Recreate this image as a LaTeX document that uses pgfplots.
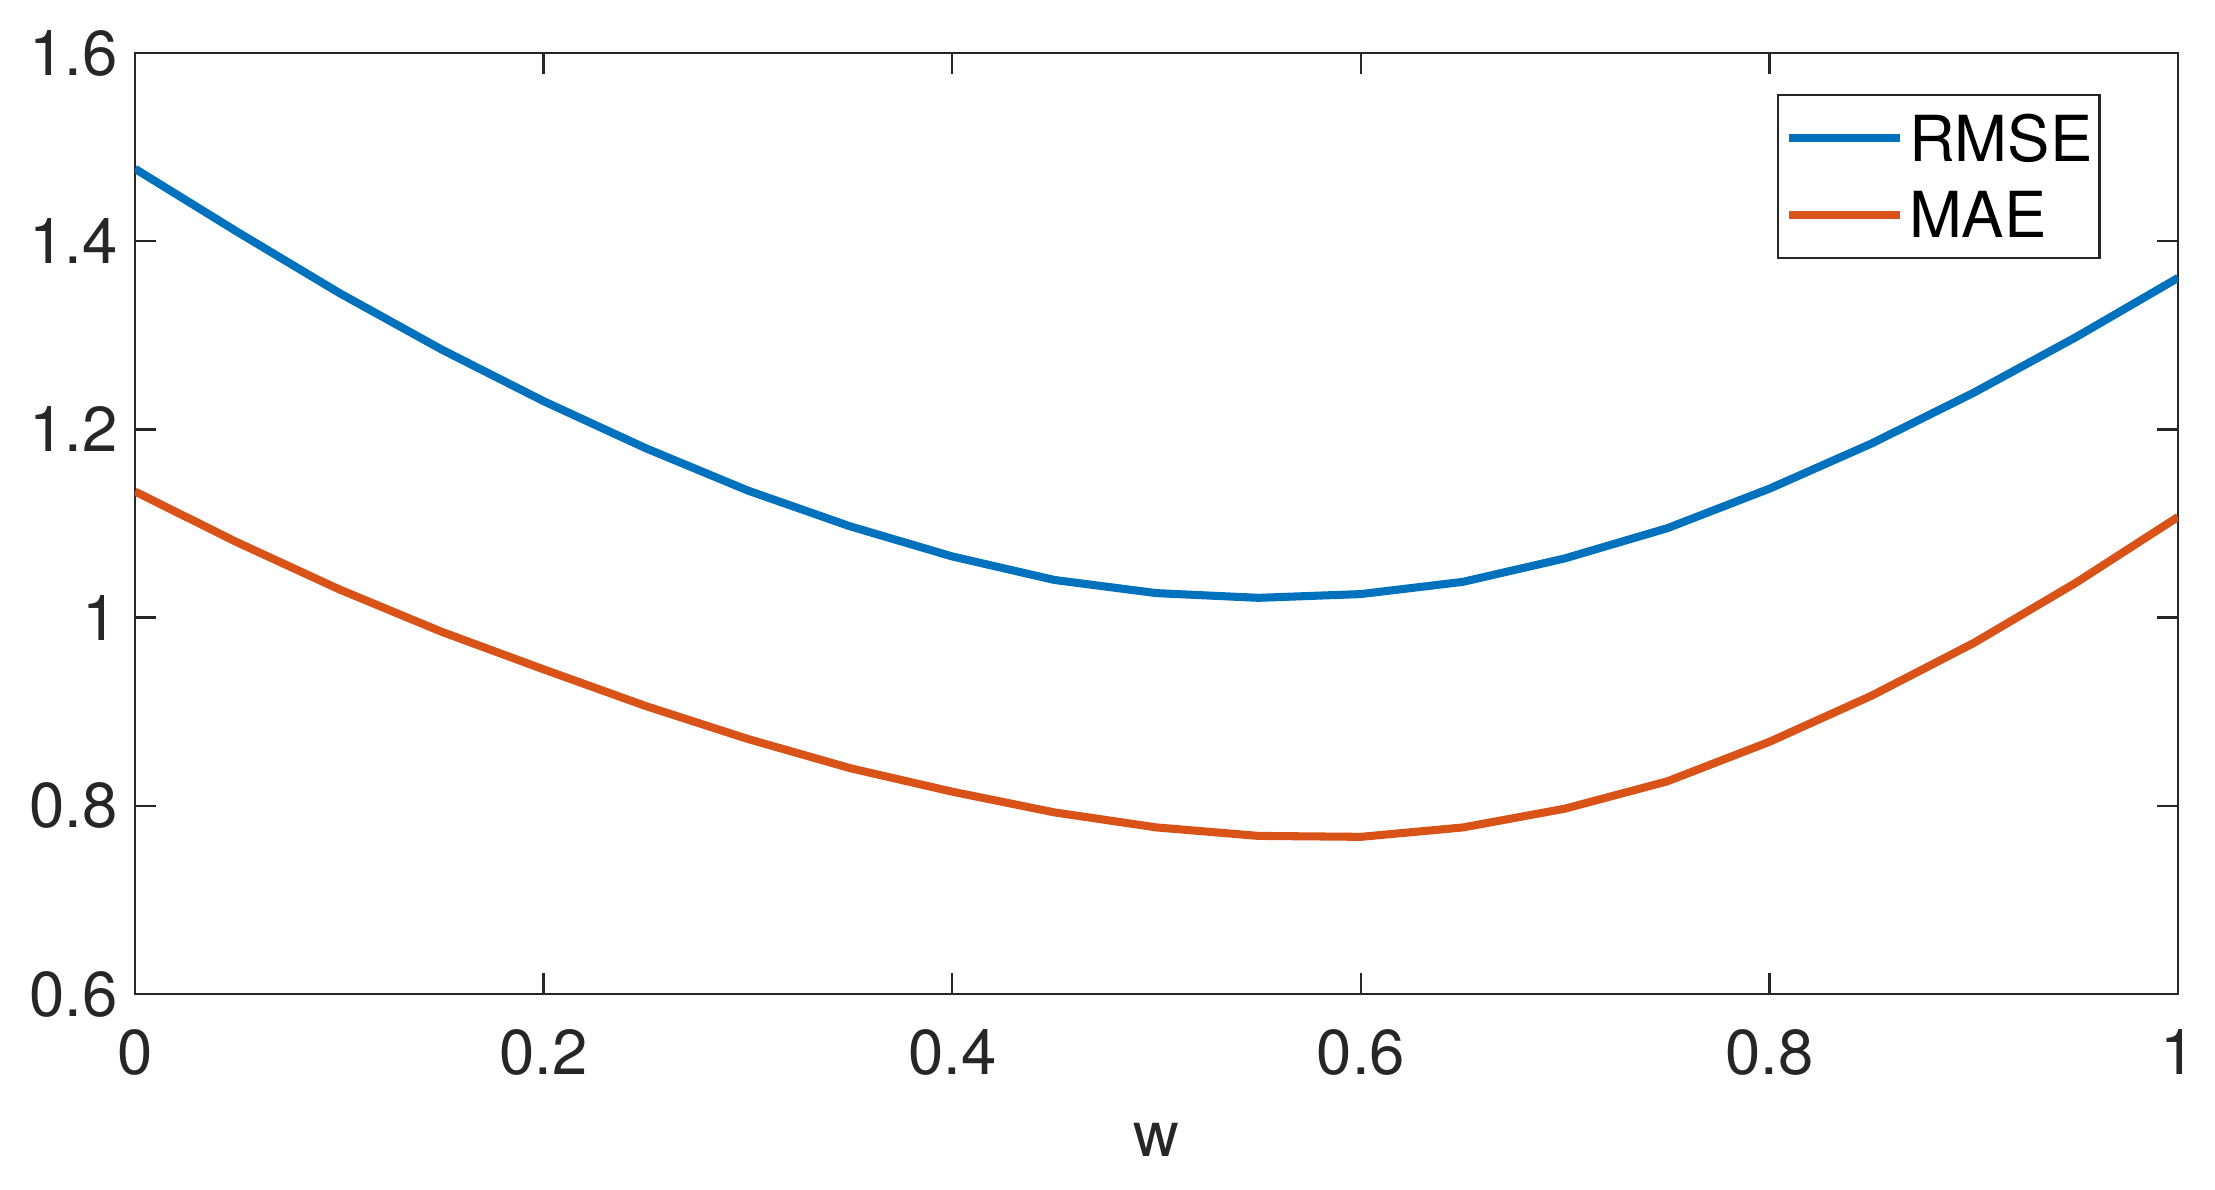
\documentclass[border=0pt]{standalone}
\usepackage{fontspec}
\setmainfont{TeX Gyre Heros}
\usepackage{pgfplots}
\pgfplotsset{compat=1.18}
\definecolor{mblue}{rgb}{0,0.447,0.741}
\definecolor{morange}{rgb}{0.85,0.325,0.098}
\definecolor{axgray}{rgb}{0.15,0.15,0.15}
\newcommand{\lblfont}{\fontsize{13}{15}\selectfont}
\begin{document}
\begin{tikzpicture}
\begin{axis}[
  scale only axis, width=418.6pt, height=192.8pt,
  xmin=0, xmax=1, ymin=0.6, ymax=1.6,
  xtick={0,0.2,0.4,0.6,0.8,1},
  ytick={0.6,0.8,1,1.2,1.4,1.6},
  xticklabels={0,0.2,0.4,0.6,0.8,1},
  yticklabels={0.6,0.8,1,1.2,1.4,1.6},
  tick align=inside, major tick length=4.3pt,
  axis line style={axgray, line width=0.5pt},
  every tick/.style={axgray, line width=0.5pt},
  tick label style={font=\lblfont, text=axgray},
  xticklabel style={yshift=-3.7pt},
  /pgf/number format/assume math mode=true,
  xlabel={w}, xlabel style={font=\lblfont, text=axgray, yshift=-2.9pt},
  legend image code/.code={\draw[#1] (0pt,0pt) -- (22.7pt,0pt);},
  legend style={at={(rel axis cs:1,1)}, anchor=north east, xshift=-15.8pt, yshift=-8.4pt,
    draw=axgray, line width=0.5pt, inner xsep=1.5pt, inner ysep=1pt,
    font=\lblfont, nodes={inner xsep=0pt, inner ysep=3.2pt, text height=9.3pt, text depth=0pt},
    column sep=1pt, cells={anchor=west}},
]
\addplot[mblue, line width=1.65pt] coordinates {
(0,1.477) (0.05,1.41) (0.1,1.345) (0.15,1.285) (0.2,1.23) (0.25,1.18) (0.3,1.135)
(0.35,1.097) (0.4,1.065) (0.45,1.04) (0.5,1.026) (0.55,1.021) (0.6,1.025) (0.65,1.038)
(0.7,1.063) (0.75,1.095) (0.8,1.137) (0.85,1.185) (0.9,1.239) (0.95,1.298) (1,1.361)};
\addlegendentry{RMSE}
\addplot[morange, line width=1.65pt] coordinates {
(0,1.134) (0.05,1.08) (0.1,1.03) (0.15,0.985) (0.2,0.945) (0.25,0.906) (0.3,0.871)
(0.35,0.84) (0.4,0.815) (0.45,0.793) (0.5,0.777) (0.55,0.768) (0.6,0.767) (0.65,0.777)
(0.7,0.797) (0.75,0.826) (0.8,0.868) (0.85,0.917) (0.9,0.973) (0.95,1.037) (1,1.107)};
\addlegendentry{MAE}
\coordinate (bl) at (rel axis cs:0,0);
\coordinate (tr) at (rel axis cs:1,1);
\end{axis}
\pgfresetboundingbox
\path ([shift={(-27.66pt,-40.16pt)}]bl) rectangle ([shift={(7.58pt,10.86pt)}]tr);
\end{tikzpicture}
\end{document}
